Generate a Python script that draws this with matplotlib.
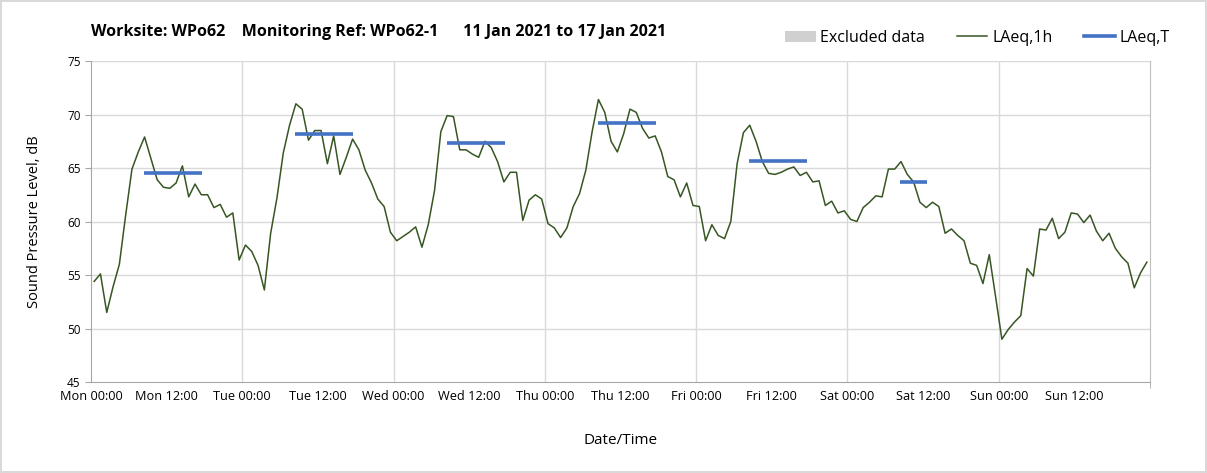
import matplotlib
matplotlib.use("Agg")
import matplotlib.pyplot as plt
from matplotlib.patches import Patch
from matplotlib.lines import Line2D
import numpy as np

plt.rcParams['font.family'] = ['Open Sans', 'DejaVu Sans']

# Hourly LAeq,1h values (Mon 00:00 .. Sun 23:00)
laeq_1h = [
    54.4, 55.1, 51.5, 53.9, 56.0, 60.6, 64.9, 66.5, 67.9, 65.9, 63.9, 63.2,
    63.1, 63.6, 65.2, 62.3, 63.5, 62.5, 62.5, 61.3, 61.6, 60.4, 60.8, 56.4,
    57.8, 57.2, 55.9, 53.6, 58.9, 62.2, 66.4, 69.0, 71.0, 70.5, 67.6, 68.5,
    68.5, 65.4, 68.0, 64.4, 66.0, 67.7, 66.7, 64.8, 63.6, 62.1, 61.4, 59.0,
    58.2, 58.6, 59.0, 59.5, 57.6, 59.7, 62.9, 68.4, 69.9, 69.8, 66.7, 66.7,
    66.3, 66.0, 67.5, 66.9, 65.6, 63.7, 64.6, 64.6, 60.1, 62.0, 62.5, 62.1,
    59.8, 59.4, 58.5, 59.4, 61.4, 62.6, 64.8, 68.4, 71.4, 70.2, 67.5, 66.5,
    68.2, 70.5, 70.2, 68.7, 67.8, 68.0, 66.5, 64.2, 63.9, 62.3, 63.6, 61.5,
    61.4, 58.2, 59.7, 58.7, 58.4, 60.0, 65.4, 68.3, 69.0, 67.5, 65.6, 64.5,
    64.4, 64.6, 64.9, 65.1, 64.3, 64.6, 63.7, 63.8, 61.5, 61.9, 60.8, 61.0,
    60.2, 60.0, 61.3, 61.8, 62.4, 62.3, 64.9, 64.9, 65.6, 64.4, 63.7, 61.8,
    61.3, 61.8, 61.4, 58.9, 59.3, 58.7, 58.2, 56.1, 55.9, 54.2, 56.9, 53.0,
    49.0, 49.9, 50.6, 51.2, 55.6, 54.9, 59.3, 59.2, 60.3, 58.4, 59.0, 60.8,
    60.7, 59.9, 60.6, 59.1, 58.2, 58.9, 57.5, 56.7, 56.1, 53.8, 55.2, 56.2,
]

# LAeq,T period values per day (Mon..Sat), with period start/end hour of day
laeq_t_days = [0, 1, 2, 3, 4, 5]
laeq_t_vals = [64.5, 68.2, 67.3, 69.2, 65.7, 63.7]
laeq_t_start = [8, 8, 8, 8, 8, 8]
laeq_t_end = [18, 18, 18, 18, 18, 13]

day_names = ["Mon", "Tue", "Wed", "Thu", "Fri", "Sat", "Sun"]
tick_labels = [f"{d} {t}" for d in day_names for t in ("00:00", "12:00")]

fig = plt.figure(figsize=(12.07, 4.73), dpi=100)
fig.patch.set_facecolor("white")
fig.patch.set_edgecolor("#d9d9d9")
fig.patch.set_linewidth(1.5)
ax = fig.add_axes([91/1207, 1-382/473, (1150-91)/1207, (382-61)/473])

hours = np.arange(len(laeq_1h)) + 0.5
ax.plot(hours, laeq_1h, color="#375623", lw=1.1, zorder=3)

for d, v, s, e in zip(laeq_t_days, laeq_t_vals, laeq_t_start, laeq_t_end):
    ax.plot([d*24 + s + 0.4, d*24 + e - 0.4], [v, v], color="#4472C4", lw=2.6,
            solid_capstyle="butt", zorder=4)

ax.set_xlim(0, 168)
ax.set_ylim(45, 75)
ax.set_yticks(np.arange(45, 76, 5))
ax.set_xticks(np.arange(0, 168, 12))
ax.set_xticklabels(tick_labels)
ax.set_xticks(np.arange(0, 169, 12), minor=True)

for y in range(50, 76, 5):
    ax.axhline(y, color="#d9d9d9", lw=1.0, zorder=1)
for x in range(24, 168, 24):
    ax.axvline(x, color="#d9d9d9", lw=1.0, zorder=1)

ax.spines["top"].set_visible(False)
ax.spines["right"].set_color("#bfbfbf")
ax.spines["left"].set_color("#a6a6a6")
ax.spines["bottom"].set_color("#a6a6a6")
ax.tick_params(axis="both", which="both", colors="#a6a6a6", labelcolor="black",
               direction="out", length=4, labelsize=8.5)
ax.tick_params(axis="x", which="major", length=0, pad=6, labelsize=9.2)

ax.set_ylabel("Sound Pressure Level, dB", fontsize=10.5, labelpad=18)
ax.set_xlabel("Date/Time", fontsize=11, labelpad=21)

fig.text(91/1207, 1-32/473, "Worksite: WPo62    Monitoring Ref: WPo62-1      11 Jan 2021 to 17 Jan 2021",
         fontsize=11.5, fontweight="bold", va="center", ha="left")

handles = [Patch(facecolor="#d0d0d0", edgecolor="none", label="Excluded data"),
           Line2D([], [], color="#375623", lw=1.1, label="LAeq,1h"),
           Line2D([], [], color="#4472C4", lw=2.6, label="LAeq,T")]
fig.legend(handles=handles, loc="center right", bbox_to_anchor=(1184/1207, 1-38/473),
           ncol=3, frameon=False, fontsize=11.5, handlelength=1.9, handletextpad=0.3,
           columnspacing=2.0)

fig.savefig("out.png", dpi=100)
